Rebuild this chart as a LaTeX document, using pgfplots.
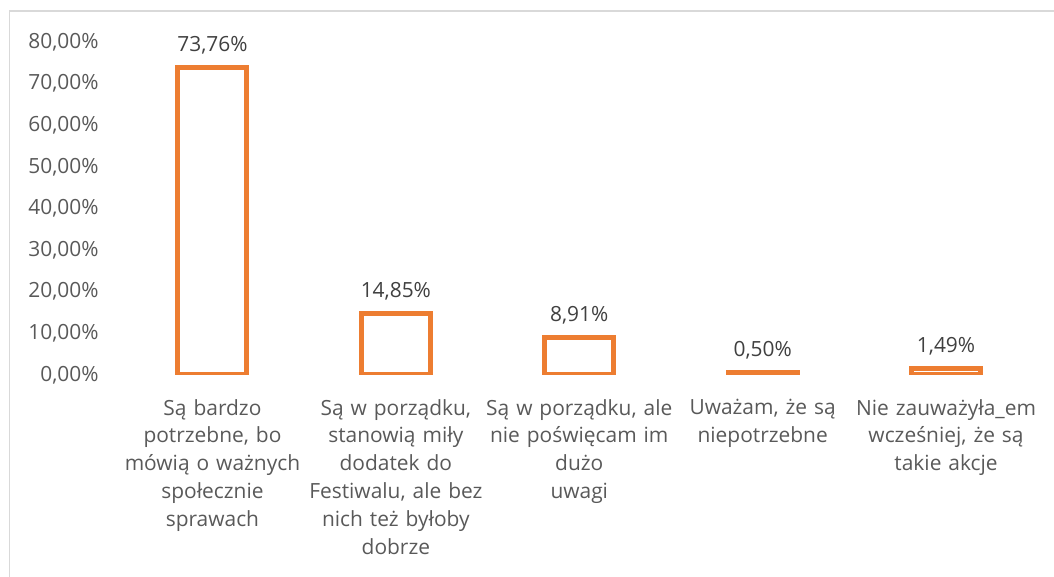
\documentclass[border=0pt]{standalone}
\usepackage{fontspec}
\setmainfont{Open Sans}
\usepackage{pgfplots}
\pgfplotsset{compat=1.18}
\definecolor{barorange}{HTML}{ED7D31}
\definecolor{axisgray}{HTML}{595959}
\definecolor{labelgray}{HTML}{404040}
\definecolor{framegray}{HTML}{D9D9D9}
\begin{document}
\begin{tikzpicture}
\useasboundingbox (0,0) rectangle (1054bp,577bp);
\draw[framegray, line width=1.5bp] (9.5bp,0) -- (9.5bp,566bp) -- (1054bp,566bp);
\begin{axis}[
    at={(120.75bp,202bp)}, anchor=south west, scale only axis,
    width=917bp, height=333bp,
    xmin=-0.5, xmax=4.5, ymin=0, ymax=80,
    axis line style={draw=none}, major tick length=0pt,
    xtick={0,1,2,3,4},
    xticklabels={
      {Są bardzo\\potrzebne, bo\\mówią o ważnych\\społecznie\\sprawach},
      {Są w porządku,\\stanowią miły\\dodatek do\\Festiwalu, ale bez\\nich też byłoby\\dobrze},
      {Są w porządku, ale\\nie poświęcam im\\dużo\\uwagi},
      {Uważam, że są\\niepotrzebne},
      {Nie zauważyła\_em\\wcześniej, że są\\takie akcje}},
    xticklabel style={font=\fontsize{21}{28}\selectfont, text=axisgray,
      text width=200bp, align=center, anchor=north, inner sep=0pt, yshift=-24bp},
    ytick={0,10,...,80},
    yticklabels={{0,00\%},{10,00\%},{20,00\%},{30,00\%},{40,00\%},{50,00\%},{60,00\%},{70,00\%},{80,00\%}},
    yticklabel style={font=\fontsize{21}{28}\selectfont, text=axisgray,
      anchor=east, inner sep=0pt, xshift=-22bp},
    ybar, bar width=69bp, bar shift=0pt,
    nodes near coords, point meta=explicit symbolic,
    every node near coord/.append style={font=\fontsize{21}{28}\selectfont,
      text=labelgray, anchor=base, inner sep=0pt, yshift=16bp},
]
\addplot[draw=barorange, line width=5bp, fill=white] coordinates {
  (0,73.76) [73,76\%]
  (1,14.85) [14,85\%]
  (2,8.91) [8,91\%]
  (3,0.50) [0,50\%]
  (4,1.49) [1,49\%]
};
\end{axis}
\end{tikzpicture}
\end{document}
